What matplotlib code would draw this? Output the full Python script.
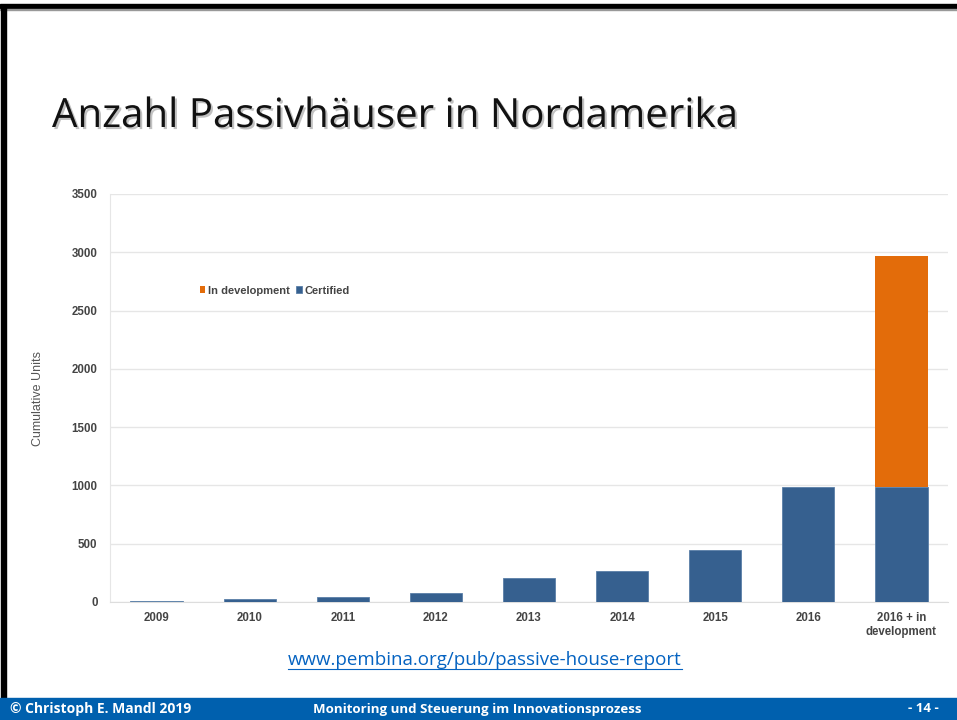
import matplotlib.pyplot as plt
import matplotlib.patheffects as pe
from matplotlib.patches import Rectangle

# Data
categories = ["2009", "2010", "2011", "2012", "2013", "2014", "2015", "2016",
              "2016 + in\ndevelopment"]
certified = [9, 23, 40, 80, 206, 264, 444, 988, 988]
in_development = [0, 0, 0, 0, 0, 0, 0, 0, 1980]

blue = "#36608F"
orange = "#E36C0A"
grey_txt = "#444444"

fig = plt.figure(figsize=(9.57, 7.2), dpi=100)

# slide frame: black border top / left, blue footer
fig.patches.append(Rectangle((0, 1 - 9 / 720), 1, 5 / 720, transform=fig.transFigure,
                             color="black", zorder=0))
fig.patches.append(Rectangle((0, 1 - 10 / 720), 1, 1 / 720, transform=fig.transFigure,
                             color="#999999", zorder=0))
fig.patches.append(Rectangle((1 / 957, 22 / 720), 5 / 957, 693 / 720, transform=fig.transFigure,
                             color="black", zorder=0))
fig.patches.append(Rectangle((0, 0), 1, 22 / 720, transform=fig.transFigure,
                             color="#0060AE", zorder=0))

# title with light shadow
fig.text(52 / 957, 1 - 127 / 720, "Anzahl Passivhäuser in Nordamerika",
         fontsize=29, family="Open Sans", color="#111111", va="baseline",
         path_effects=[pe.withSimplePatchShadow(offset=(1.5, -1.5), shadow_rgbFace="#999999", alpha=0.6)])

ax = fig.add_axes([110 / 957, 118 / 720, 838 / 957, 408 / 720])
x = range(len(categories))
ax.bar(x, certified, width=0.56, color=blue, edgecolor="#5a7fa8", linewidth=0.6,
       label="Certified", zorder=3)
ax.bar(x, in_development, width=0.56, bottom=certified, color=orange,
       linewidth=0, label="In development", zorder=3)

ax.set_xlim(-0.5, len(categories) - 0.5)
ax.set_ylim(0, 3500)
ax.set_yticks(range(0, 3501, 500))
ax.set_xticks(list(x))
ax.set_xticklabels(categories)
ax.grid(axis="y", color="#e6e6e6", linewidth=1, zorder=0)
for s in ["top", "right"]:
    ax.spines[s].set_visible(False)
ax.spines["left"].set_color("#e6e6e6")
ax.spines["bottom"].set_color("#dddddd")
ax.tick_params(axis="y", length=0, pad=9)
ax.tick_params(axis="x", length=0, pad=7)
for lbl in ax.get_xticklabels() + ax.get_yticklabels():
    lbl.set_fontsize(8.3)
    lbl.set_fontweight("bold")
    lbl.set_color(grey_txt)
    lbl.set_family("Liberation Sans")
ax.set_ylabel("Cumulative Units", fontsize=9, color="#555555", family="Liberation Sans",
              labelpad=20)

handles, labels = ax.get_legend_handles_labels()
leg = ax.legend(handles[::-1], labels[::-1], loc="upper left", bbox_to_anchor=(0.095, 0.80),
                ncol=2, frameon=False, handlelength=0.5, handleheight=0.5,
                handletextpad=0.25, columnspacing=0.6,
                prop={"size": 8, "weight": "bold", "family": "Liberation Sans"})
for t in leg.get_texts():
    t.set_color(grey_txt)

# source link, underlined to its own width
url = fig.text(485 / 957, 1 - 660 / 720, "www.pembina.org/pub/passive-house-report",
               fontsize=13.5, family="Open Sans", color="#0563C1", ha="center", va="center")
fig.canvas.draw()
bb = url.get_window_extent().transformed(fig.transFigure.inverted())
fig.add_artist(plt.Line2D([bb.x0, bb.x1], [1 - 669 / 720, 1 - 669 / 720],
                          color="#0563C1", linewidth=0.8))

# footer texts
fig.text(10 / 957, 11 / 720, "© Christoph E. Mandl 2019", fontsize=10, fontweight="bold",
         color="white", family="Open Sans", va="center")
fig.text(313 / 957, 11 / 720, "Monitoring und Steuerung im Innovationsprozess", fontsize=9.5,
         fontweight="bold", color="white", family="Open Sans", va="center")
fig.text(939 / 957, 11 / 720, "- 14 -", fontsize=9.5, fontweight="bold", color="white",
         family="Open Sans", va="center", ha="right")

fig.savefig("out.png", dpi=100)
